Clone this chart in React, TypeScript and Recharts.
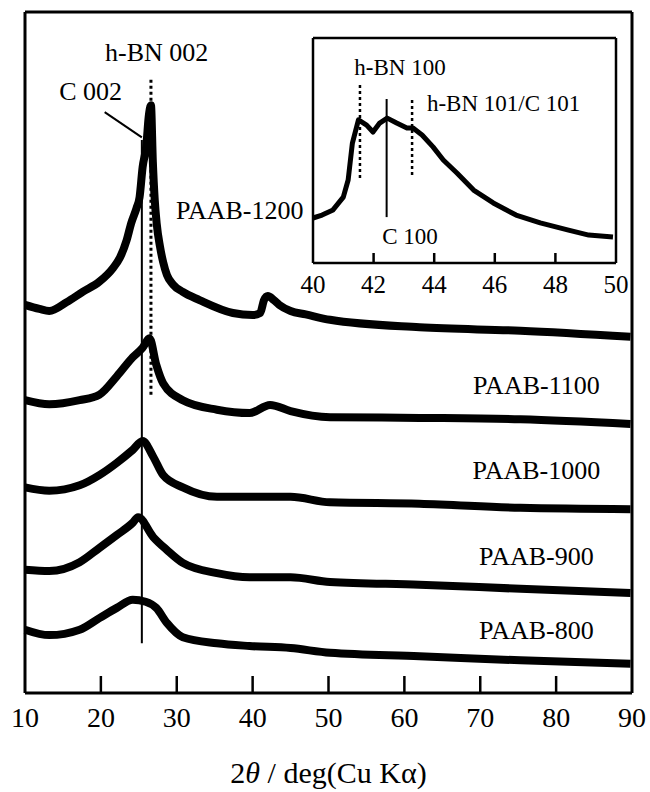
import React from "react";
import { LineChart, Line, XAxis, YAxis, ReferenceLine, ReferenceDot } from "recharts";

const FONT = '"Liberation Serif", "Times New Roman", serif';

// 2θ (deg) vs intensity (a.u., curves offset vertically as in the figure)
const paab1200 = [
  [10, 57.0], [11.9, 56.4], [13.2, 56.1], [15.5, 57.4], [17.6, 58.9], [19.8, 60.4],
  [21.6, 62.4], [22.5, 63.9], [23.4, 66.5], [24.0, 69.0], [24.7, 71.2], [25.1, 72.8],
  [25.5, 77.2], [26.0, 80.5], [26.3, 84.6], [26.6, 86.3], [26.85, 78.0], [27.1, 72.4],
  [27.35, 69.0], [27.8, 65.5], [28.2, 63.3], [28.7, 61.4], [29.5, 60.0], [30.8, 58.9],
  [33.0, 57.7], [37.4, 55.8], [40.0, 55.5], [41.0, 55.8], [41.5, 57.7], [42.0, 58.3],
  [42.8, 57.7], [43.5, 57.0], [45.0, 56.1], [47.0, 55.6], [50.2, 54.8], [62, 53.7],
  [75.3, 53.2], [89.8, 52.3],
];
const paab1100 = [
  [10, 43.0], [13.2, 42.4], [17.2, 43.0], [19.8, 43.8], [22.1, 46.5], [24.2, 49.3],
  [25.5, 50.7], [26.4, 52.1], [27.3, 48.2], [28.2, 45.5], [30.8, 43.0], [35.3, 41.6],
  [39.6, 41.1], [42.3, 42.3], [45, 41.4], [50.2, 40.5], [62, 40.4], [75.3, 40.2], [89.8, 39.5],
];
const paab1000 = [
  [10, 30.2], [13.2, 29.7], [17.2, 30.5], [19.8, 32.0], [22.1, 33.8], [24.2, 35.7],
  [25.5, 37.0], [26.9, 34.7], [28.2, 32.0], [30.8, 30.2], [35.3, 28.8], [39.6, 28.8],
  [45, 28.8], [50.2, 28.0], [62, 27.8], [75.3, 27.2], [89.8, 27.0],
];
const paab900 = [
  [10, 18.1], [13.2, 17.9], [17.2, 19.2], [19.8, 21.3], [22.1, 23.2], [24.2, 25.0],
  [24.9, 25.8], [26.9, 22.9], [28.7, 21.0], [30.8, 19.1], [35.3, 17.6], [39.6, 17.0],
  [45, 17.0], [50.2, 16.3], [62, 15.9], [75.3, 15.3], [89.8, 14.7],
];
const paab800 = [
  [10, 9.3], [13.2, 8.5], [17.2, 9.3], [19.8, 11.0], [22.1, 12.5], [24.2, 13.7],
  [25.9, 13.4], [27.3, 12.5], [28.7, 10.3], [30.8, 8.2], [35.3, 7.3], [39.6, 6.9],
  [45, 6.6], [50.2, 5.9], [62, 5.4], [75.3, 4.8], [89.8, 4.3],
];
// inset: PAAB-1200, 40–50 deg
const inset1200 = [
  [40.0, 20.0], [40.3, 21.3], [40.66, 23.6], [41.0, 29.3], [41.16, 36.9], [41.3, 53.3],
  [41.5, 63.6], [41.77, 61.3], [41.98, 58.2], [42.2, 62.2], [42.45, 64.4], [42.76, 62.2],
  [43.1, 60.0], [43.3, 60.0], [43.6, 56.9], [43.96, 51.6], [44.3, 45.8], [44.75, 40.0],
  [45.3, 32.4], [45.95, 26.7], [46.7, 21.3], [47.5, 17.8], [48.4, 14.7], [49.1, 12.4], [49.9, 11.6],
];

const mainTicks = [10, 20, 30, 40, 50, 60, 70, 80, 90];
const insetTicks = [40, 42, 44, 46, 48, 50];

const series = [
  { name: "PAAB-1200", data: paab1200 },
  { name: "PAAB-1100", data: paab1100 },
  { name: "PAAB-1000", data: paab1000 },
  { name: "PAAB-900", data: paab900 },
  { name: "PAAB-800", data: paab800 },
];

const sampleLabels = [
  { text: "PAAB-1200", x: 38.3, y: 70.9 },
  { text: "PAAB-1100", x: 77.4, y: 45.1 },
  { text: "PAAB-1000", x: 77.4, y: 32.7 },
  { text: "PAAB-900", x: 77.4, y: 20.0 },
  { text: "PAAB-800", x: 77.4, y: 9.25 },
];

const toRows = (d: number[][]) => d.map(([x, y]) => ({ x, y }));

if (typeof document !== "undefined") document.body.style.margin = "0";

function makeTick(len: number, up: boolean, label: boolean, size: number, gap: number, ends: number[]) {
  return (props: any) => {
    const { x, y, payload } = props;
    const v = payload.value;
    const inner = !ends.includes(v);
    return (
      <g>
        {inner && <line x1={x} y1={y} x2={x} y2={up ? y - len : y + len} stroke="#000" strokeWidth={2.5} />}
        {label && (
          <text x={x} y={y + gap} textAnchor="middle" fontSize={size} fontFamily={FONT} fill="#000">
            {v}
          </text>
        )}
      </g>
    );
  };
}

function note(key: string, x: number, y: number, text: string, size: number) {
  return (
    <ReferenceDot
      key={key}
      x={x}
      y={y}
      r={1}
      fill="none"
      stroke="none"
      label={{
        content: (p: any) => {
          const vb = p.viewBox;
          return (
            <text
              x={vb.x + vb.width / 2}
              y={vb.y + vb.height / 2}
              textAnchor="middle"
              dominantBaseline="central"
              fontSize={size}
              fontFamily={FONT}
              fill="#000"
            >
              {text}
            </text>
          );
        },
      }}
    />
  );
}

export default function App() {
  return (
    <div style={{ position: "relative", width: 650, height: 792, background: "#fff", fontFamily: FONT }}>
      <LineChart width={650} height={792} margin={{ top: 10, right: 16, bottom: 39, left: 23 }}>
        <XAxis
          type="number"
          dataKey="x"
          domain={[10, 90]}
          ticks={mainTicks}
          height={60}
          tickSize={0}
          tickMargin={0}
          axisLine={{ stroke: "#000", strokeWidth: 3 }}
          tick={makeTick(17, true, true, 28, 34, [10, 90])}
          label={{
            content: (p: any) => {
              const vb = p.viewBox;
              return (
                <text x={vb.x + vb.width / 2} y={783} textAnchor="middle" fontSize={30} fontFamily={FONT} fill="#000">
                  2<tspan fontStyle="italic">θ</tspan> / deg(Cu Kα)
                </text>
              );
            },
          }}
        />
        <XAxis
          xAxisId="top"
          orientation="top"
          type="number"
          dataKey="x"
          domain={[10, 90]}
          ticks={mainTicks}
          height={2}
          tickSize={0}
          tickMargin={0}
          axisLine={{ stroke: "#000", strokeWidth: 3 }}
          tick={makeTick(17, false, false, 28, 0, [10, 90])}
        />
        <YAxis type="number" domain={[0, 100]} width={2} tick={false} tickLine={false} axisLine={{ stroke: "#000", strokeWidth: 3 }} />
        <YAxis yAxisId="right" orientation="right" type="number" domain={[0, 100]} width={2} tick={false} tickLine={false} axisLine={{ stroke: "#000", strokeWidth: 3 }} />

        {series.map((s) => (
          <Line
            key={s.name}
            data={toRows(s.data)}
            dataKey="y"
            type="monotone"
            stroke="#000"
            strokeWidth={8}
            strokeLinejoin="round"
            dot={false}
            isAnimationActive={false}
          />
        ))}

        <ReferenceLine segment={[{ x: 25.4, y: 7.3 }, { x: 25.4, y: 81.2 }]} stroke="#000" strokeWidth={2} />
        <ReferenceLine segment={[{ x: 26.6, y: 43.8 }, { x: 26.6, y: 90.5 }]} stroke="#000" strokeWidth={3} strokeDasharray="3 3" />
        <ReferenceLine segment={[{ x: 20.5, y: 85.3 }, { x: 25.4, y: 81.6 }]} stroke="#000" strokeWidth={2} />

        {note("hbn002", 27.36, 94.1, "h-BN 002", 26)}
        {note("c002", 18.65, 88.3, "C 002", 26)}
        {sampleLabels.map((l) => note(l.text, l.x, l.y, l.text, 26))}
      </LineChart>

      <div style={{ position: "absolute", left: 300, top: 20 }}>
        <LineChart width={340} height={290} margin={{ top: 16, right: 22, bottom: 7, left: 11 }}>
          <XAxis
            type="number"
            dataKey="x"
            domain={[40, 50]}
            ticks={insetTicks}
            height={40}
            tickSize={0}
            tickMargin={0}
            axisLine={{ stroke: "#000", strokeWidth: 2.5 }}
            tick={makeTick(10, true, true, 25, 30, [40, 50])}
          />
          <XAxis
            xAxisId="top"
            orientation="top"
            type="number"
            dataKey="x"
            domain={[40, 50]}
            ticks={insetTicks}
            height={2}
            tickSize={0}
            tickMargin={0}
            axisLine={{ stroke: "#000", strokeWidth: 2.5 }}
            tick={makeTick(12, false, false, 25, 0, [40, 50])}
          />
          <YAxis type="number" domain={[0, 100]} width={2} tick={false} tickLine={false} axisLine={{ stroke: "#000", strokeWidth: 2.5 }} />
          <YAxis yAxisId="right" orientation="right" type="number" domain={[0, 100]} width={2} tick={false} tickLine={false} axisLine={{ stroke: "#000", strokeWidth: 2.5 }} />

          <Line
            data={toRows(inset1200)}
            dataKey="y"
            type="linear"
            stroke="#000"
            strokeWidth={5}
            strokeLinejoin="round"
            dot={false}
            isAnimationActive={false}
          />

          <ReferenceLine segment={[{ x: 41.55, y: 37.8 }, { x: 41.55, y: 80 }]} stroke="#000" strokeWidth={2.5} strokeDasharray="3 3" />
          <ReferenceLine segment={[{ x: 42.43, y: 20.4 }, { x: 42.43, y: 72.9 }]} stroke="#000" strokeWidth={2} />
          <ReferenceLine segment={[{ x: 43.27, y: 39.1 }, { x: 43.27, y: 73.8 }]} stroke="#000" strokeWidth={2.5} strokeDasharray="3 3" />

          {note("hbn100", 42.87, 87.1, "h-BN 100", 23)}
          {note("hbn101", 46.29, 71.1, "h-BN 101/C 101", 23)}
          {note("c100", 43.2, 11.6, "C 100", 23)}
        </LineChart>
      </div>
    </div>
  );
}
